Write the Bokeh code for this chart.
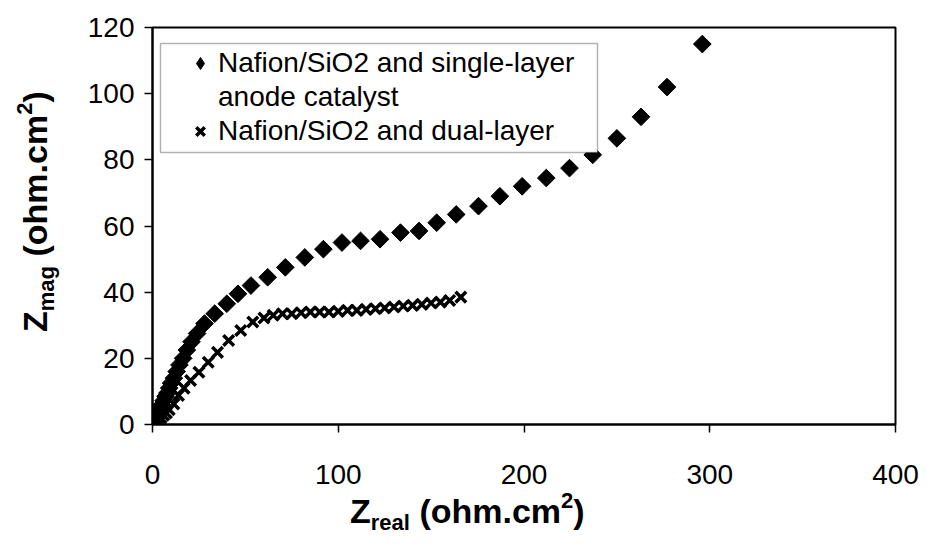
import numpy as np
from bokeh.plotting import figure
from bokeh.layouts import row, column
from bokeh.models import (Range1d, FixedTicker, Legend, LegendItem,
                          BoxAnnotation, Div)
from bokeh.embed import file_html
from bokeh.resources import INLINE

# ---------------- data ----------------
single_x = [0.5, 1, 1.5, 2, 2.5, 3, 4, 5, 6, 7, 8, 9, 10, 11.5, 13, 14.5, 16.5,
            18.5, 21, 24, 28, 33.5, 40, 46, 53, 62, 71.5, 82, 92, 102, 112,
            122.5, 133.5, 143.5, 153, 163.5, 175.5, 187, 199, 212, 224.5, 237,
            250, 263, 277, 296]
single_y = [0.3, 0.8, 1.3, 2, 2.8, 3.8, 5, 6, 7.2, 8.5, 9.5, 11, 12.5, 14, 16,
            18, 20, 22.5, 25, 27.5, 30.5, 33.5, 36.5, 39.5, 42, 44.5, 47.5,
            50.5, 53, 55, 55.5, 56, 58, 58.5, 61, 63.5, 66, 69, 72, 74.5, 77.5,
            81.5, 86.5, 93, 102, 115]

dual_x = [0.5, 1.5, 3, 4.5, 6, 7.5, 9, 11.5, 14, 17, 20.5, 25, 30, 35, 41,
          47.5, 54, 60, 65, 70, 75, 80, 85, 90, 95, 100, 105, 110, 115, 120,
          125, 130, 135, 140, 145, 150, 155, 160, 166]
dual_y = [0.2, 0.6, 1.2, 2, 2.8, 3.5, 4.5, 6.2, 8.8, 11, 13.3, 15.8, 18.8,
          21.8, 25.4, 28.4, 31, 32.2, 33, 33.5, 33.5, 33.8, 34, 34, 34, 34.2,
          34.5, 34.5, 34.8, 35, 35.2, 35.5, 35.8, 36, 36.3, 36.7, 37, 37.5, 38.5]

x_ticks = [0, 100, 200, 300, 400]
y_ticks = [0, 20, 40, 60, 80, 100, 120]
legend_labels = ["Nafion/SiO2 and single-layer", "anode catalyst",
                 "Nafion/SiO2 and dual-layer"]
x_title = ("Z", "real", " (ohm.cm", "2", ")")
y_title = ("Z", "mag", " (ohm.cm", "2", ")")

# ---------------- layout (page coordinates) ----------------
FONT = "Liberation Sans"
TOTAL_W, TOTAL_H = 919, 545
LEFT_W = 70                 # panel holding the y title
MAIN_H = 500                # main chart height; x title panel below it
FL, FR, FT, FB = 152, 895, 27, 424   # plot frame in page coordinates
MAIN_W = TOTAL_W - LEFT_W

p = figure(width=MAIN_W, height=MAIN_H, x_range=Range1d(0, 400),
           y_range=Range1d(0, 120), output_backend="svg", toolbar_location=None,
           min_border_left=FL - LEFT_W, min_border_right=TOTAL_W - FR,
           min_border_top=FT, min_border_bottom=MAIN_H - FB, margin=0)
p.background_fill_color = "white"
p.border_fill_color = "white"
p.outline_line_color = "black"
p.outline_line_width = 2
p.xgrid.visible = False
p.ygrid.visible = False

for ax, ticks in ((p.xaxis[0], x_ticks), (p.yaxis[0], y_ticks)):
    ax.ticker = FixedTicker(ticks=ticks)
    ax.minor_tick_line_color = None
    ax.major_tick_in = 0
    ax.major_tick_out = 8
    ax.major_tick_line_color = "black"
    ax.major_tick_line_width = 1.5
    ax.axis_line_color = "black"
    ax.axis_line_width = 2
    ax.major_label_text_font = FONT
    ax.major_label_text_font_size = "28px"
    ax.major_label_text_color = "black"
p.xaxis[0].major_label_standoff = 32
p.yaxis[0].major_label_standoff = 10

# ---------------- data glyphs ----------------
# legend key for the diamonds: first data point drawn as a diamond (hidden
# beneath the main markers)
key_single = p.scatter(single_x[:1], single_y[:1], marker="diamond", size=10,
                       fill_color="black", line_color="black")
r_single = p.scatter(single_x, single_y, marker="square", angle=np.pi / 4,
                     size=12.5, fill_color="black", line_color="black")
r_dual = p.scatter(dual_x, dual_y, marker="x", size=15, line_color="black",
                   line_width=3.5)
key_blank = p.scatter(x=[], y=[], marker="square", fill_alpha=0, line_alpha=0)


# ---------------- legend ----------------
def sx(px):
    return px - FL


def sy(py):
    return FB - py


box = BoxAnnotation(left=sx(160), right=sx(597), top=sy(43), bottom=sy(152),
                    left_units="screen", right_units="screen",
                    top_units="screen", bottom_units="screen",
                    fill_color="white", fill_alpha=1.0,
                    line_color="black", line_width=1.5)
p.add_layout(box)

legend = Legend(items=[LegendItem(label=legend_labels[0], renderers=[key_single]),
                       LegendItem(label=legend_labels[1], renderers=[key_blank]),
                       LegendItem(label=legend_labels[2], renderers=[r_dual])],
                location=(sx(185), sy(147)), padding=0, margin=0, spacing=2,
                glyph_width=30, glyph_height=30, label_height=30,
                label_standoff=3, background_fill_alpha=0,
                border_line_alpha=0, label_text_font=FONT,
                label_text_font_size="28px", label_text_color="black")
p.add_layout(legend)

# ---------------- axis titles (HTML, with sub/superscripts) ----------------
BIG, SMALL = 34, 22
ASC = 29                     # baseline offset inside a BIG-px line box


def title_html(parts, extra_style):
    z, sub, mid, sup, end = parts
    return (f'<div style="white-space:nowrap;width:max-content;'
            f"font-family:'{FONT}',Arial,sans-serif;font-weight:bold;"
            f'font-size:{BIG}px;line-height:{BIG}px;color:black;{extra_style}">'
            f'{z}<span style="font-size:{SMALL}px;position:relative;top:7px">'
            f'{sub}</span>{mid}<span style="font-size:{SMALL}px;'
            f'position:relative;top:-15px">{sup}</span>{end}</div>')


XT_H = TOTAL_H - MAIN_H
x_start, x_base = 350, 523
x_div = Div(text=title_html(x_title,
                            f"position:relative;left:{x_start - LEFT_W}px;"
                            f"top:{x_base - MAIN_H - ASC}px"),
            width=MAIN_W, height=XT_H, margin=0,
            styles={"overflow": "visible"})

y_start, y_base = 332, 47
y_div = Div(text=title_html(y_title,
                            f"transform-origin:0 0;transform:translate("
                            f"{y_base - ASC}px,{y_start}px) rotate(-90deg)"),
            width=LEFT_W, height=TOTAL_H, margin=0,
            styles={"overflow": "visible"})

page = row(y_div, column(p, x_div, spacing=0), spacing=0)
open("out.html", "w").write(file_html(page, INLINE))
